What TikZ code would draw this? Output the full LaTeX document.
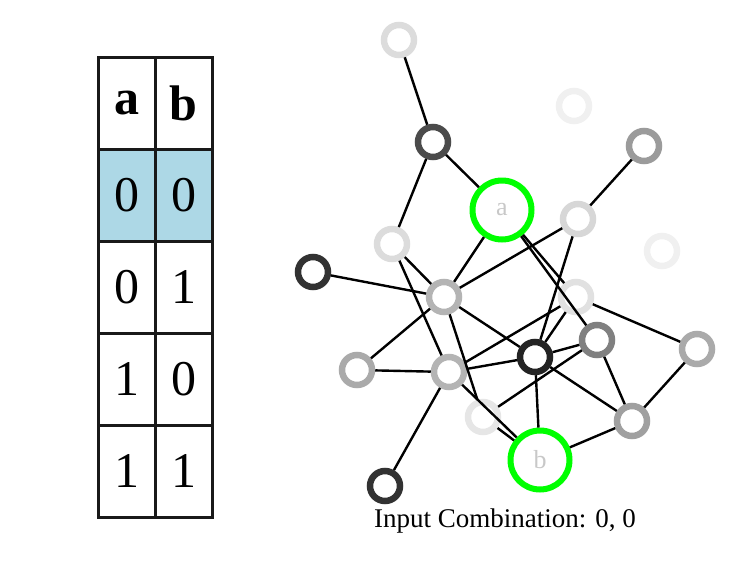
\documentclass[tikz,border=0pt]{standalone}
\usepackage{fontspec}
\setmainfont{Liberation Serif}
\definecolor{g220}{RGB}{220,220,220}
\definecolor{g75}{RGB}{75,75,75}
\definecolor{g240}{RGB}{240,240,240}
\definecolor{g155}{RGB}{155,155,155}
\definecolor{g215}{RGB}{215,215,215}
\definecolor{g50}{RGB}{50,50,50}
\definecolor{g180}{RGB}{180,180,180}
\definecolor{g225}{RGB}{225,225,225}
\definecolor{g128}{RGB}{128,128,128}
\definecolor{g35}{RGB}{35,35,35}
\definecolor{g170}{RGB}{170,170,170}
\definecolor{g230}{RGB}{230,230,230}
\definecolor{g160}{RGB}{160,160,160}
\definecolor{lblgray}{RGB}{200,200,200}
\definecolor{vgreen}{RGB}{0,255,0}
\definecolor{cellblue}{RGB}{173,216,230}
\definecolor{tabline}{RGB}{25,25,25}
\tikzset{
  small/.style={circle, draw=#1, line width=6.5pt, minimum size=30pt, inner sep=0pt},
  big/.style={circle, draw=vgreen, line width=6pt, minimum size=59pt, inner sep=0pt,
     text=lblgray, font=\fontsize{26}{26}\selectfont},
  edge/.style={line width=2.4pt, black},
  cell/.style={draw=tabline, line width=3pt, minimum width=57pt, minimum height=92pt,
     inner sep=0pt, font=\fontsize{50}{50}\selectfont},
  hcell/.style={cell, font=\fontsize{50}{50}\selectfont\bfseries},
  bcell/.style={cell, fill=cellblue}
}
\begin{document}
\begin{tikzpicture}[x=1pt,y=-1pt]
\useasboundingbox (0,0) rectangle (739,568);
% table
\node[hcell] (ha) at (126.5,103) {a};
\node[hcell] (hb) at (183.5,103) {b};
\node[bcell] (r1a) at (126.5,195) {0};
\node[bcell] (r1b) at (183.5,195) {0};
\node[cell] (r2a) at (126.5,287) {0};
\node[cell] (r2b) at (183.5,287) {1};
\node[cell] (r3a) at (126.5,379) {1};
\node[cell] (r3b) at (183.5,379) {0};
\node[cell] (r4a) at (126.5,471) {1};
\node[cell] (r4b) at (183.5,471) {1};
% graph nodes
\node[small=g220] (n1) at (399,40) {};
\node[small=g75] (n2) at (433,142) {};
\node[big] (a) at (502,210) {a};
\node[small=g240] (n4) at (574,106) {};
\node[small=g155] (n5) at (644,146) {};
\node[small=g215] (n6) at (578,219) {};
\node[small=g240] (n7) at (662,251) {};
\node[small=g220] (n8) at (392,244) {};
\node[small=g50] (n9) at (313,272) {};
\node[small=g180] (n10) at (444,297) {};
\node[small=g225] (n11) at (576,297) {};
\node[small=g128] (n12) at (597,340) {};
\node[small=g35] (n13) at (535,357) {};
\node[small=g170] (n14) at (697,349) {};
\node[small=g170] (n15) at (357,370) {};
\node[small=g180] (n16) at (449,372) {};
\node[small=g230] (n17) at (483,417) {};
\node[small=g160] (n18) at (632,421) {};
\node[big] (b) at (540,460) {b};
\node[small=g50] (n20) at (385,486) {};
% edges
\draw[edge] (n1) -- (n2);
\draw[edge] (n2) -- (a);
\draw[edge] (n2) -- (n8);
\draw[edge] (a) -- (n10);
\draw[edge] (a) -- (n11);
\draw[edge] (a) -- (n12);
\draw[edge] (n6) -- (n5);
\draw[edge] (n6) -- (n10);
\draw[edge] (n6) -- (n13);
\draw[edge] (n8) -- (n10);
\draw[edge] (n8) -- (n16);
\draw[edge] (n9) -- (n10);
\draw[edge] (n10) -- (n15);
\draw[edge] (n10) -- (n13);
\draw[edge] (n10) -- (n17);
\draw[edge] (n15) -- (n16);
\draw[edge] (n16) -- (n13);
\draw[edge] (n16) -- (n11);
\draw[edge] (n16) -- (b);
\draw[edge] (n16) -- (n20);
\draw[edge] (n17) -- (b);
\draw[edge] (n17) -- (n12);
\draw[edge] (n13) -- (n12);
\draw[edge] (n13) -- (n18);
\draw[edge] (n13) -- (b);
\draw[edge] (n13) -- (n11);
\draw[edge] (n11) -- (n14);
\draw[edge] (n14) -- (n18);
\draw[edge] (n12) -- (n18);
\draw[edge] (n18) -- (b);
% caption
\node[font=\fontsize{27}{27}\selectfont, inner sep=0pt] (cap) at (505,521) {Input Combination: 0, 0};
\end{tikzpicture}
\end{document}
